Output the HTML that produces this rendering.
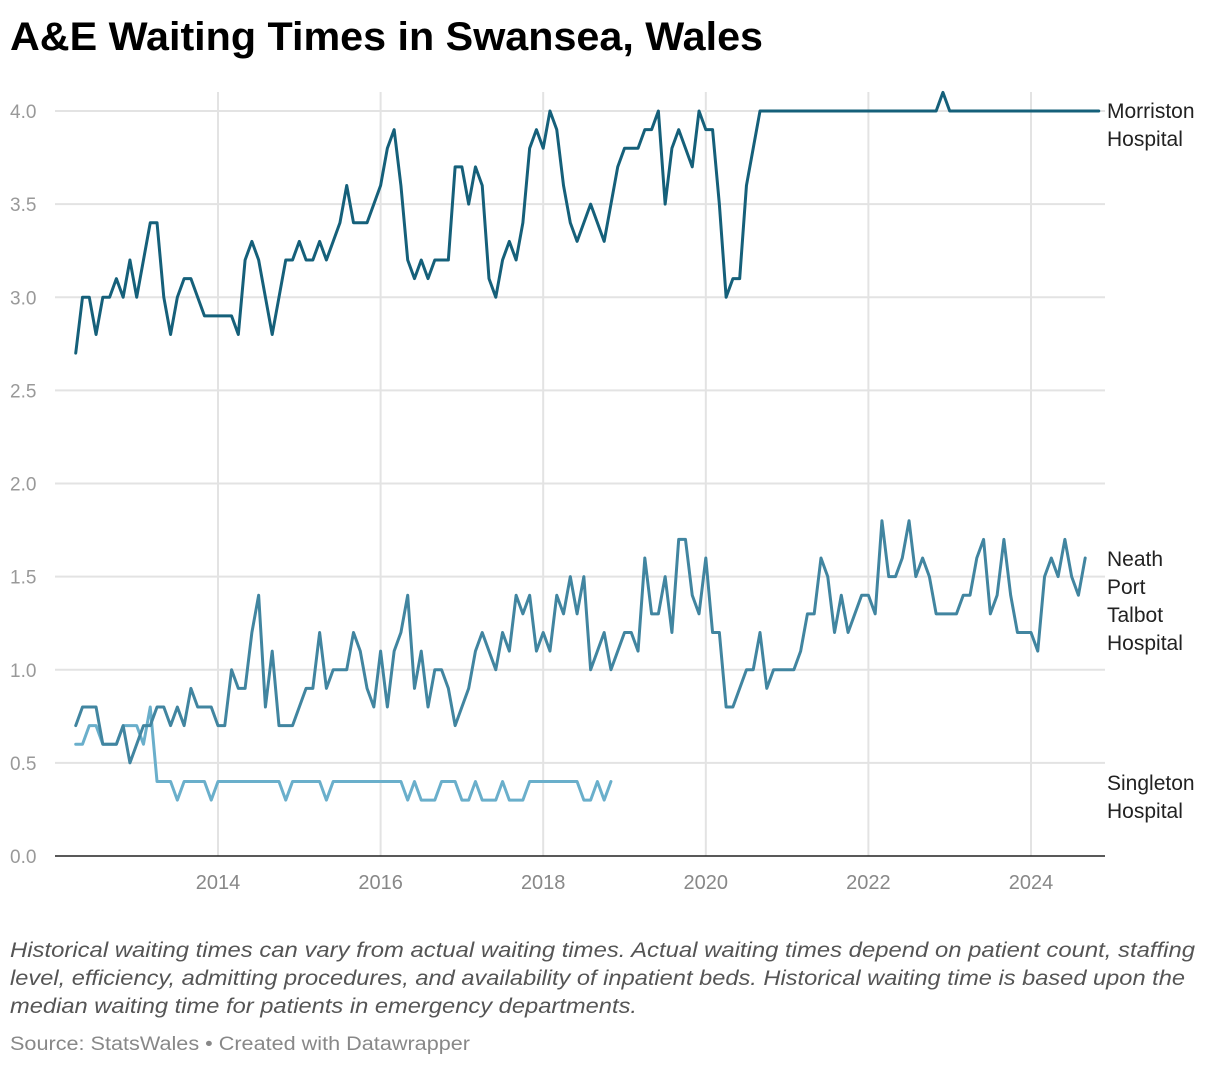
<!DOCTYPE html>
<html><head><meta charset="utf-8"><style>
html,body{margin:0;padding:0;background:#fff;}
svg{display:block;font-family:"Liberation Sans",Arial,sans-serif;}
</style></head><body>
<svg id="chart" width="1220" height="1066" viewBox="0 0 1220 1066" xmlns="http://www.w3.org/2000/svg">
<text x="10" y="50" font-size="40" font-weight="bold" fill="#000" textLength="753" lengthAdjust="spacingAndGlyphs">A&amp;E Waiting Times in Swansea, Wales</text>
<g id="grid"></g>
<g id="yticks"></g>
<g id="xticks"></g>
<g id="lines"></g>
<g font-size="21" fill="#222">
<text x="1107" y="118">Morriston</text><text x="1107" y="146">Hospital</text></g>
<g font-size="21" fill="#222">
<text x="1107" y="566">Neath</text><text x="1107" y="594">Port</text><text x="1107" y="622">Talbot</text><text x="1107" y="650">Hospital</text></g>
<g font-size="21" fill="#222">
<text x="1107" y="790">Singleton</text><text x="1107" y="818">Hospital</text></g>
<g font-size="21" font-style="italic" fill="#555">
<text x="10" y="957" textLength="1185" lengthAdjust="spacingAndGlyphs">Historical waiting times can vary from actual waiting times. Actual waiting times depend on patient count, staffing</text>
<text x="10" y="985" textLength="1175" lengthAdjust="spacingAndGlyphs">level, efficiency, admitting procedures, and availability of inpatient beds. Historical waiting time is based upon the</text>
<text x="10" y="1013" textLength="627" lengthAdjust="spacingAndGlyphs">median waiting time for patients in emergency departments.</text>
</g>
<text x="10" y="1050" font-size="19" fill="#888" textLength="460" lengthAdjust="spacingAndGlyphs">Source: StatsWales • Created with Datawrapper</text>
</svg>
<script>
const yTicks = [0, 0.5, 1.0, 1.5, 2.0, 2.5, 3.0, 3.5, 4.0];
const xTickYears = [2014, 2016, 2018, 2020, 2022, 2024];
const startYear = 2012.25;
const morriston = [2.7,3.0,3.0,2.8,3.0,3.0,3.1,3.0,3.2,3.0,3.2,3.4,3.4,3.0,2.8,3.0,3.1,3.1,3.0,2.9,2.9,2.9,2.9,2.9,2.8,3.2,3.3,3.2,3.0,2.8,3.0,3.2,3.2,3.3,3.2,3.2,3.3,3.2,3.3,3.4,3.6,3.4,3.4,3.4,3.5,3.6,3.8,3.9,3.6,3.2,3.1,3.2,3.1,3.2,3.2,3.2,3.7,3.7,3.5,3.7,3.6,3.1,3.0,3.2,3.3,3.2,3.4,3.8,3.9,3.8,4.0,3.9,3.6,3.4,3.3,3.4,3.5,3.4,3.3,3.5,3.7,3.8,3.8,3.8,3.9,3.9,4.0,3.5,3.8,3.9,3.8,3.7,4.0,3.9,3.9,3.5,3.0,3.1,3.1,3.6,3.8,4.0,4.0,4.0,4.0,4.0,4.0,4.0,4.0,4.0,4.0,4.0,4.0,4.0,4.0,4.0,4.0,4.0,4.0,4.0,4.0,4.0,4.0,4.0,4.0,4.0,4.0,4.0,4.1,4.0,4.0,4.0,4.0,4.0,4.0,4.0,4.0,4.0,4.0,4.0,4.0,4.0,4.0,4.0,4.0,4.0,4.0,4.0,4.0,4.0,4.0,4.0];
const neathPortTalbot = [0.7,0.8,0.8,0.8,0.6,0.6,0.6,0.7,0.5,0.6,0.7,0.7,0.8,0.8,0.7,0.8,0.7,0.9,0.8,0.8,0.8,0.7,0.7,1.0,0.9,0.9,1.2,1.4,0.8,1.1,0.7,0.7,0.7,0.8,0.9,0.9,1.2,0.9,1.0,1.0,1.0,1.2,1.1,0.9,0.8,1.1,0.8,1.1,1.2,1.4,0.9,1.1,0.8,1.0,1.0,0.9,0.7,0.8,0.9,1.1,1.2,1.1,1.0,1.2,1.1,1.4,1.3,1.4,1.1,1.2,1.1,1.4,1.3,1.5,1.3,1.5,1.0,1.1,1.2,1.0,1.1,1.2,1.2,1.1,1.6,1.3,1.3,1.5,1.2,1.7,1.7,1.4,1.3,1.6,1.2,1.2,0.8,0.8,0.9,1.0,1.0,1.2,0.9,1.0,1.0,1.0,1.0,1.1,1.3,1.3,1.6,1.5,1.2,1.4,1.2,1.3,1.4,1.4,1.3,1.8,1.5,1.5,1.6,1.8,1.5,1.6,1.5,1.3,1.3,1.3,1.3,1.4,1.4,1.6,1.7,1.3,1.4,1.7,1.4,1.2,1.2,1.2,1.1,1.5,1.6,1.5,1.7,1.5,1.4,1.6];
const singleton = [0.6,0.6,0.7,0.7,0.6,0.6,0.6,0.7,0.7,0.7,0.6,0.8,0.4,0.4,0.4,0.3,0.4,0.4,0.4,0.4,0.3,0.4,0.4,0.4,0.4,0.4,0.4,0.4,0.4,0.4,0.4,0.3,0.4,0.4,0.4,0.4,0.4,0.3,0.4,0.4,0.4,0.4,0.4,0.4,0.4,0.4,0.4,0.4,0.4,0.3,0.4,0.3,0.3,0.3,0.4,0.4,0.4,0.3,0.3,0.4,0.3,0.3,0.3,0.4,0.3,0.3,0.3,0.4,0.4,0.4,0.4,0.4,0.4,0.4,0.4,0.3,0.3,0.4,0.3,0.4];

const NS = 'http://www.w3.org/2000/svg';
const plotL = 55, plotR = 1105, plotTop = 92;
function yScale(v){ return 856 - v * 186.25; }
function xScale(year){ return 218 + (year - 2014) * 81.3; }
function monthX(i){ return xScale(startYear + i / 12); }
function mk(tag, attrs, parent){ const e = document.createElementNS(NS, tag); for (const k in attrs) e.setAttribute(k, attrs[k]); parent.appendChild(e); return e; }

const grid = document.getElementById('grid');
const yt = document.getElementById('yticks');
yTicks.forEach(v => {
  if (v > 0) {
    const l = mk('line', {x1: plotL, x2: plotR, y1: yScale(v), y2: yScale(v), stroke: '#e3e3e3', 'stroke-width': 2}, grid);
    
    
  }
  const t = mk('text', {x: 10, y: yScale(v) + 7, 'font-size': 19, fill: '#999'}, yt);
  t.textContent = v.toFixed(1);
  
  
});
const xt = document.getElementById('xticks');
xTickYears.forEach(y => {
  const l = mk('line', {x1: xScale(y), x2: xScale(y), y1: plotTop, y2: 856, stroke: '#e3e3e3', 'stroke-width': 2}, grid);
  
  
  const t = mk('text', {x: xScale(y), y: 889, 'font-size': 20, fill: '#888', 'text-anchor': 'middle'}, xt);
  t.textContent = String(y);
  
  
});
const axis = mk('line', {x1: plotL, x2: plotR, y1: 856, y2: 856, stroke: '#222', 'stroke-width': 1.5}, xt);



const lines = document.getElementById('lines');
function drawSeries(vals, color, name){
  const d = vals.map((v, i) => (i ? 'L' : 'M') + monthX(i).toFixed(2) + ',' + yScale(v).toFixed(2)).join(' ');
  const p = mk('path', {d: d, fill: 'none', stroke: color, 'stroke-width': 3, 'stroke-linejoin': 'round', 'stroke-linecap': 'round'}, lines);
  
  
}
drawSeries(singleton, '#6aafcb', 'line-singleton');
drawSeries(neathPortTalbot, '#4185a0', 'line-neath-port-talbot');
drawSeries(morriston, '#15607a', 'line-morriston');
</script>
</body></html>
